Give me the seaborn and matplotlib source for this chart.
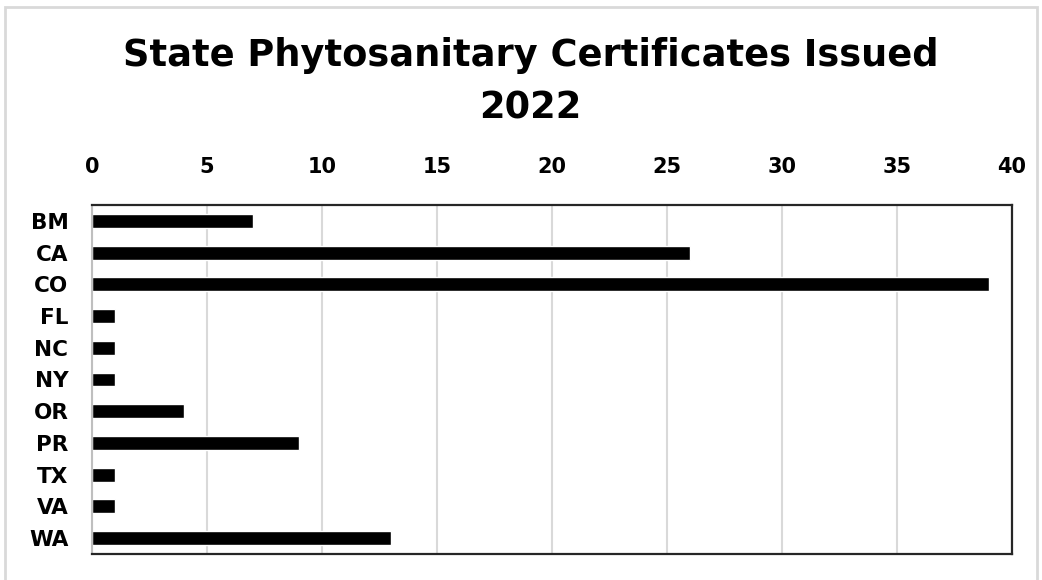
import matplotlib
matplotlib.use("Agg")
import matplotlib.pyplot as plt
import pandas as pd
import seaborn as sns
from matplotlib.patches import Rectangle

states = ["BM", "CA", "CO", "FL", "NC", "NY", "OR", "PR", "TX", "VA", "WA"]
certificates = [7, 26, 39, 1, 1, 1, 4, 9, 1, 1, 13]
x_ticks = [0, 5, 10, 15, 20, 25, 30, 35, 40]

df = pd.DataFrame({"state": states, "certificates": certificates})

sns.set_theme(style="white")
plt.rcParams["font.family"] = ["DejaVu Sans"]
plt.rcParams["text.color"] = "black"

fig = plt.figure(figsize=(10.42, 5.8), dpi=100)
ax = fig.add_axes([0.0883, 0.0448, 0.8829, 0.6018])

sns.barplot(data=df, x="certificates", y="state", orient="h", color="black",
            saturation=1, width=0.44, ax=ax)

ax.set_xlim(0, 40)
ax.set_ylim(len(states) - 0.5, -0.5)
ax.set_xticks(x_ticks)
ax.xaxis.tick_top()
ax.set_xlabel("")
ax.set_ylabel("")
ax.grid(axis="x", color="#d9d9d9", linewidth=1.5)
ax.set_axisbelow(True)
ax.tick_params(axis="x", length=0, pad=20, labelsize=15)
ax.tick_params(axis="y", length=0, pad=17, labelsize=15.5)
for lbl in ax.get_xticklabels() + ax.get_yticklabels():
    lbl.set_fontweight("bold")
    lbl.set_color("black")

for side in ["top", "right", "bottom"]:
    ax.spines[side].set_color("#262626")
    ax.spines[side].set_linewidth(1.6)
ax.spines["left"].set_color("#bfbfbf")
ax.spines["left"].set_linewidth(1.5)

fig.text(0.509, 0.886, "State Phytosanitary Certificates Issued",
         ha="center", va="baseline", fontsize=26.5, fontweight="bold", color="black")
fig.text(0.509, 0.796, "2022", ha="center", va="baseline",
         fontsize=26.5, fontweight="bold", color="black")

# light outer frame of the picture
fig.patches.append(Rectangle((0.005, -0.02), 0.99, 1.008, transform=fig.transFigure,
                             fill=False, edgecolor="#d9d9d9", linewidth=2))

fig.savefig("out.png", dpi=100, facecolor="white")
